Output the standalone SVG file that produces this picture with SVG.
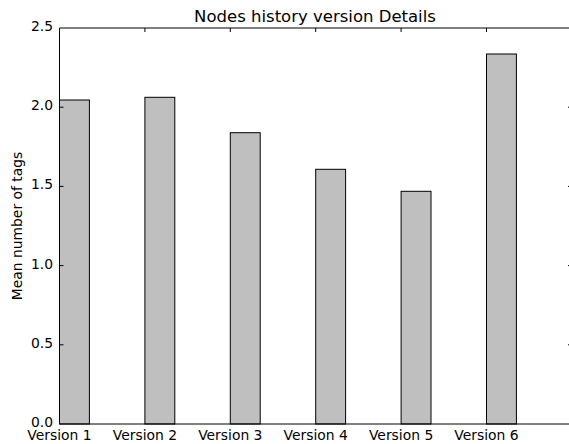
<svg xmlns="http://www.w3.org/2000/svg" width="569" height="444" viewBox="0 0 569 444">
<style>
text{font-family:"DejaVu Sans","Liberation Sans",sans-serif;fill:#000}
.tick{font-size:13.9px}
.bar{fill:#bfbfbf;stroke:#000;stroke-width:1}
.ax{stroke:#000;stroke-width:1;fill:none}
</style>
<rect width="569" height="444" fill="#fff"/>
<g id="bars">
<rect id="bar1" class="bar" x="59.5" y="100" width="29.9" height="324"/>
<rect id="bar2" class="bar" x="144.9" y="97.3" width="29.9" height="326.7"/>
<rect id="bar3" class="bar" x="230.3" y="132.7" width="29.9" height="291.3"/>
<rect id="bar4" class="bar" x="315.7" y="169.3" width="29.9" height="254.7"/>
<rect id="bar5" class="bar" x="401.1" y="191.3" width="29.9" height="232.7"/>
<rect id="bar6" class="bar" x="486.5" y="54" width="29.9" height="370"/>
</g>
<g id="axes" class="ax">
<path d="M59.5 28V424H572M59.5 28H572"/>
<path d="M59.5 107.2h4M59.5 186.4h4M59.5 265.6h4M59.5 344.8h4M568 107.2h4M568 186.4h4M568 265.6h4M568 344.8h4"/>
<path d="M144.9 28v4M230.3 28v4M315.7 28v4M401.1 28v4M486.5 28v4"/>
</g>
<g id="ylabels" class="tick" text-anchor="end">
<text x="53" y="427">0.0</text>
<text x="53" y="347.8">0.5</text>
<text x="53" y="268.6">1.0</text>
<text x="53" y="189.4">1.5</text>
<text x="53" y="110.2">2.0</text>
<text x="53" y="31">2.5</text>
</g>
<g id="xlabels" class="tick" text-anchor="middle">
<text x="59.5" y="440">Version 1</text>
<text x="144.9" y="440">Version 2</text>
<text x="230.3" y="440">Version 3</text>
<text x="315.7" y="440">Version 4</text>
<text x="401.1" y="440">Version 5</text>
<text x="486.5" y="440">Version 6</text>
</g>
<text id="ytitle" class="tick" text-anchor="middle" transform="translate(22 226) rotate(-90)">Mean number of tags</text>
<text id="title" x="315" y="21.5" text-anchor="middle" font-size="16.5">Nodes history version Details</text>
</svg>
